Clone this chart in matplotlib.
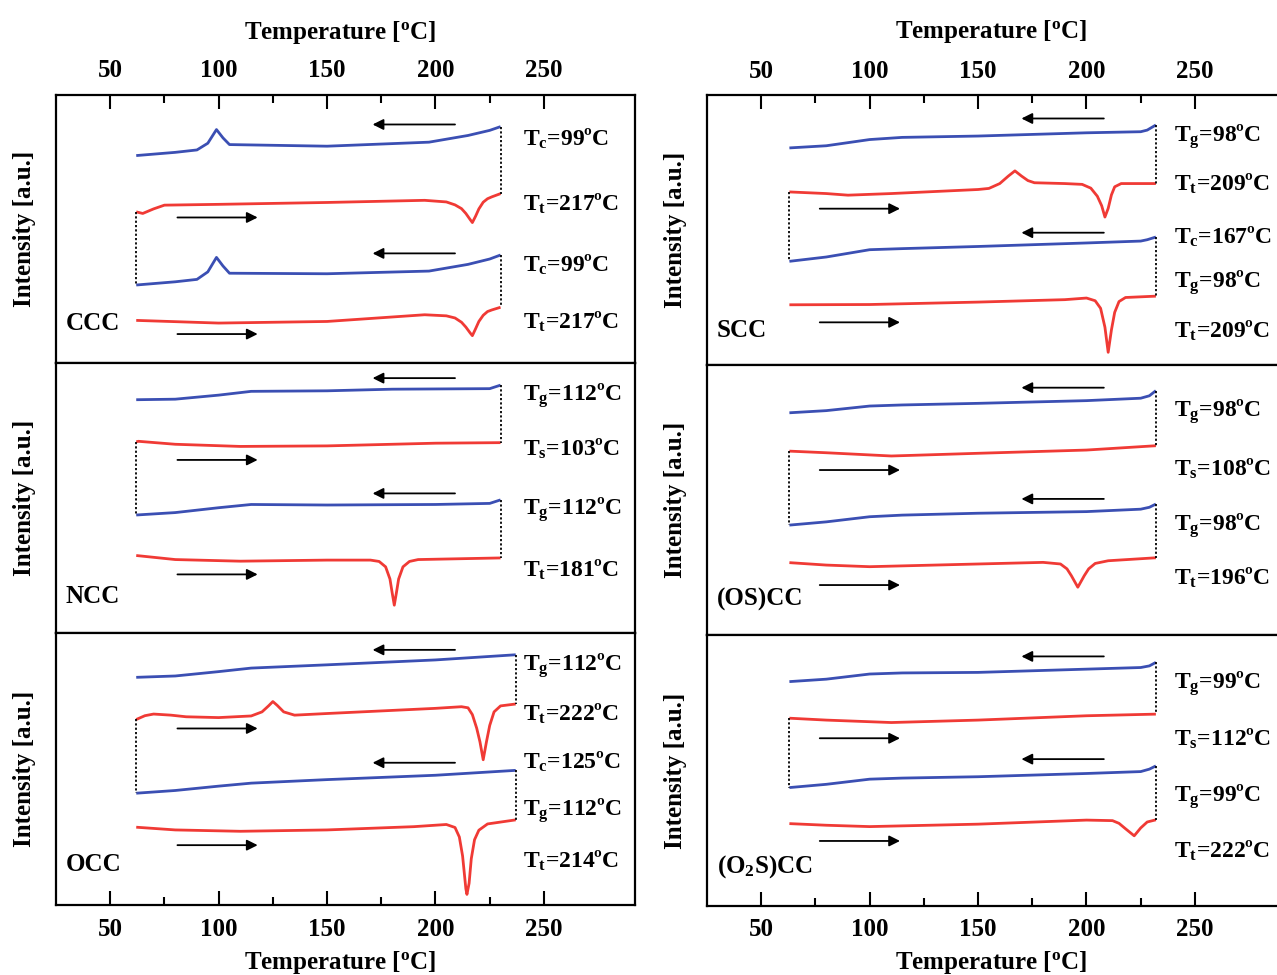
import matplotlib
matplotlib.use("Agg")
import matplotlib.pyplot as plt
from matplotlib.ticker import FixedLocator

plt.rcParams['font.family'] = ['Liberation Serif', 'DejaVu Serif']
plt.rcParams['font.weight'] = 'bold'
plt.rcParams['axes.labelweight'] = 'bold'
plt.rcParams['mathtext.fontset'] = 'custom'
plt.rcParams['mathtext.rm'] = 'Liberation Serif:bold'
plt.rcParams['mathtext.it'] = 'Liberation Serif:bold'
plt.rcParams['mathtext.bf'] = 'Liberation Serif:bold'

BLUE = '#3b4fb3'
RED = '#f03a35'

# ---------------- data (temperature in C, intensity in a.u.) ----------------
# CCC
ccc_c1_x = [62, 80, 90, 95, 99, 102, 105, 150, 197, 215, 225, 230]
ccc_c1_y = [77.4, 78.6, 79.5, 82.0, 87.1, 84.0, 81.5, 80.9, 82.4, 84.9, 86.8, 88.2]
ccc_h1_x = [62, 65, 70, 75, 100, 150, 195, 205, 209, 212, 214, 216, 217, 218.5, 220,
            222, 224, 226, 230]
ccc_h1_y = [56.4, 55.8, 57.5, 58.9, 59.2, 59.9, 60.7, 60.1, 59.0, 57.6, 55.8, 53.5, 52.4,
            54.8, 57.5, 60.0, 61.3, 62.0, 63.2]
ccc_c2_x = [62, 80, 90, 95, 99, 102, 105, 150, 197, 215, 225, 230]
ccc_c2_y = [29.1, 30.3, 31.2, 34.0, 39.4, 36.2, 33.5, 33.3, 34.3, 36.8, 38.8, 40.3]
ccc_h2_x = [62, 100, 150, 195, 205, 209, 212, 214, 216, 217, 218.5, 220, 222, 224, 226, 230]
ccc_h2_y = [15.9, 14.9, 15.5, 18.0, 17.6, 16.8, 15.2, 13.4, 11.2, 10.2, 12.8, 15.5, 17.8,
            19.2, 19.8, 20.8]
ccc_labels = ['T$_c$=99ºC', 'T$_t$=217ºC', 'T$_c$=99ºC', 'T$_t$=217ºC']
ccc_label_y = [83.6, 59.2, 36.6, 15.5]
ccc_arrow_y = [89.0, 54.3, 40.9, 10.8]

# NCC
ncc_c1_x = [62, 80, 100, 115, 150, 180, 225, 230]
ncc_c1_y = [86.4, 86.6, 88.1, 89.5, 89.7, 90.3, 90.5, 91.8]
ncc_h1_x = [62, 63, 80, 110, 150, 200, 230]
ncc_h1_y = [70.8, 71.0, 69.9, 69.1, 69.3, 70.3, 70.5]
ncc_c2_x = [62, 80, 100, 115, 150, 200, 225, 230]
ncc_c2_y = [43.7, 44.6, 46.4, 47.6, 47.4, 47.6, 48.0, 49.3]
ncc_h2_x = [62, 80, 110, 150, 170, 174, 177, 179, 180, 181, 182, 183, 185, 188, 192, 230]
ncc_h2_y = [28.7, 27.2, 26.6, 27.0, 27.0, 26.5, 24.5, 20.0, 15.0, 10.3, 15.0, 20.0, 24.5,
            26.5, 27.2, 27.8]
ncc_labels = ['T$_g$=112ºC', 'T$_s$=103ºC', 'T$_g$=112ºC', 'T$_t$=181ºC']
ncc_label_y = [87.9, 68.1, 45.8, 23.5]
ncc_arrow_y = [94.4, 64.1, 51.7, 21.7]

# OCC
occ_c1_x = [62, 80, 100, 115, 150, 200, 237]
occ_c1_y = [83.7, 84.2, 85.8, 87.1, 88.3, 90.1, 92.0]
occ_h1_x = [62, 66, 70, 78, 85, 100, 115, 120, 123, 125, 127, 130, 135, 150, 200, 212,
            215, 217, 219, 220.5, 222, 223.5, 225, 227, 230, 237]
occ_h1_y = [68.2, 69.6, 70.2, 69.8, 69.2, 68.9, 69.5, 71.0, 73.2, 74.8, 73.4, 71.0, 69.8,
            70.4, 72.3, 72.9, 72.5, 70.0, 65.0, 60.0, 53.4, 60.0, 66.0, 71.0, 73.2, 73.9]
occ_c2_x = [62, 80, 100, 115, 150, 200, 237]
occ_c2_y = [41.1, 42.1, 43.7, 44.8, 46.1, 47.7, 49.5]
occ_h2_x = [62, 80, 110, 150, 190, 205, 209, 211, 212.5, 214, 214.5, 215.5, 216.5, 218,
            220, 224, 237]
occ_h2_y = [28.6, 27.6, 27.1, 27.6, 28.8, 29.6, 28.5, 25.0, 18.0, 6.0, 3.9, 8.0, 17.0,
            24.0, 27.5, 29.8, 31.3]
occ_labels = ['T$_g$=112ºC', 'T$_t$=222ºC', 'T$_c$=125ºC', 'T$_g$=112ºC', 'T$_t$=214ºC']
occ_label_y = [87.9, 70.4, 52.6, 34.7, 16.3]
occ_arrow_y = [93.8, 64.9, 52.3, 22.0]

# SCC
scc_c1_x = [63, 80, 100, 115, 150, 200, 225, 228, 232]
scc_c1_y = [80.4, 81.2, 83.5, 84.3, 84.8, 86.0, 86.4, 87.0, 88.9]
scc_h1_x = [63, 80, 90, 110, 150, 155, 160, 164, 167, 170, 173, 176, 190, 198, 202, 205,
            207, 208.5, 210, 211.5, 213, 216, 232]
scc_h1_y = [64.1, 63.5, 62.9, 63.5, 65.0, 65.4, 67.2, 70.0, 71.9, 70.0, 68.3, 67.5, 67.2,
            66.9, 65.5, 62.5, 59.0, 54.8, 58.0, 63.0, 66.0, 67.2, 67.2]
scc_c2_x = [63, 80, 100, 115, 150, 200, 225, 228, 232]
scc_c2_y = [38.4, 40.0, 42.7, 43.1, 43.9, 45.2, 45.9, 46.4, 47.4]
scc_h2_x = [63, 100, 150, 190, 200, 204, 206.5, 208.5, 210, 211.5, 213, 215, 218, 232]
scc_h2_y = [22.3, 22.4, 23.3, 24.2, 24.8, 23.8, 21.0, 14.0, 4.7, 13.0, 19.5, 23.5, 25.0,
            25.5]
scc_labels = ['T$_g$=98ºC', 'T$_t$=209ºC', 'T$_c$=167ºC', 'T$_g$=98ºC', 'T$_t$=209ºC']
scc_label_y = [84.5, 67.2, 47.4, 30.7, 12.7]
scc_arrow_y = [91.3, 57.9, 49.0, 15.8]

# (OS)CC
oscc_c1_x = [63, 80, 100, 115, 150, 200, 225, 229, 232]
oscc_c1_y = [82.3, 83.1, 84.8, 85.2, 85.8, 86.8, 87.7, 88.6, 90.5]
oscc_h1_x = [63, 80, 110, 150, 200, 232]
oscc_h1_y = [68.1, 67.5, 66.3, 67.3, 68.5, 70.1]
oscc_c2_x = [63, 80, 100, 115, 150, 200, 225, 229, 232]
oscc_c2_y = [40.7, 41.9, 43.8, 44.4, 45.1, 45.7, 46.6, 47.3, 48.5]
oscc_h2_x = [63, 80, 100, 150, 180, 188, 191, 193, 196, 199, 201, 204, 210, 232]
oscc_h2_y = [26.8, 25.9, 25.3, 26.3, 26.9, 26.3, 24.5, 22.0, 17.7, 22.0, 24.5, 26.5, 27.5, 28.6]
oscc_labels = ['T$_g$=98ºC', 'T$_s$=108ºC', 'T$_g$=98ºC', 'T$_t$=196ºC']
oscc_label_y = [82.7, 61.7, 40.7, 21.0]
oscc_arrow_y = [91.6, 61.1, 50.4, 18.5]

# (O2S)CC
o2scc_c1_x = [63, 80, 100, 115, 150, 200, 225, 229, 232]
o2scc_c1_y = [82.8, 83.7, 85.6, 86.0, 86.2, 87.4, 88.0, 88.6, 89.9]
o2scc_h1_x = [63, 80, 110, 150, 200, 232]
o2scc_h1_y = [69.3, 68.6, 67.7, 68.6, 70.2, 70.8]
o2scc_c2_x = [63, 80, 100, 115, 150, 200, 225, 229, 232]
o2scc_c2_y = [43.7, 44.9, 46.8, 47.2, 47.7, 48.9, 49.6, 50.5, 51.7]
o2scc_h2_x = [63, 80, 100, 150, 200, 212, 215, 218, 222, 225, 228, 232]
o2scc_h2_y = [30.4, 29.8, 29.3, 30.2, 31.7, 31.5, 30.5, 28.5, 25.9, 28.8, 31.0, 31.8]
o2scc_labels = ['T$_g$=99ºC', 'T$_s$=112ºC', 'T$_g$=99ºC', 'T$_t$=222ºC']
o2scc_label_y = [81.9, 61.6, 40.3, 20.3]
o2scc_arrow_y = [92.1, 61.9, 54.2, 24.0]

major_ticks = [50, 100, 150, 200, 250]
minor_ticks = [75, 125, 175, 225]

# ---------------- figure ----------------
W, H = 1277, 975
fig = plt.figure(figsize=(W / 100, H / 100), dpi=100)


def px_axes(x0, y_top, y_bot, width=579):
    return fig.add_axes([x0 / W, 1 - y_bot / H, width / W, (y_bot - y_top) / H])


def draw_panel(ax, curves, labels, label_y, arrow_y, name, name_y, cool_arrow, heat_arrow):
    ax.set_xlim(25, 292)
    ax.set_ylim(0, 100)
    for x, y, c in curves:
        ax.plot(x, y, color=c, lw=2.0, solid_capstyle='butt', solid_joinstyle='round')
    # dotted connectors between consecutive scans
    for a, b, side in [(0, 1, -1), (1, 2, 0), (2, 3, -1)]:
        xa = curves[a][0][side]
        ax.plot([xa, xa], [curves[a][1][side], curves[b][1][side]], color='k',
                ls=(0, (1.2, 1.2)), lw=1.3)
    for i, ay in enumerate(arrow_y):
        xs = cool_arrow if i % 2 == 0 else heat_arrow
        ax.annotate('', xy=(xs[1], ay), xytext=(xs[0], ay),
                    arrowprops=dict(arrowstyle='-|>', color='k', lw=1.3,
                                    mutation_scale=16, shrinkA=0, shrinkB=0))
    for t, ly in zip(labels, label_y):
        ax.text(240.5, ly, t, fontsize=17, va='center', ha='left')
    ax.text(29.5, name_y, name, fontsize=18, va='center', ha='left')
    ax.set_yticks([])
    ax.xaxis.set_major_locator(FixedLocator(major_ticks))
    ax.xaxis.set_minor_locator(FixedLocator(minor_ticks))
    ax.tick_params(axis='x', which='both', direction='in', bottom=False, top=False,
                   labelbottom=False, labeltop=False, width=1.5, labelsize=18, pad=9)
    ax.tick_params(axis='x', which='major', length=10)
    ax.tick_params(axis='x', which='minor', length=6)
    for s in ax.spines.values():
        s.set_linewidth(1.6)
    ax.set_ylabel('Intensity [a.u.]', fontsize=18, fontweight='bold')
    ax.yaxis.set_label_coords(-0.034, 0.5)


columns = [
    (56, [(95, 363), (363, 633), (633, 905)], (209, 171), (81, 118), [
        ([(ccc_c1_x, ccc_c1_y, BLUE), (ccc_h1_x, ccc_h1_y, RED),
          (ccc_c2_x, ccc_c2_y, BLUE), (ccc_h2_x, ccc_h2_y, RED)],
         ccc_labels, ccc_label_y, ccc_arrow_y, 'CCC', 14.9),
        ([(ncc_c1_x, ncc_c1_y, BLUE), (ncc_h1_x, ncc_h1_y, RED),
          (ncc_c2_x, ncc_c2_y, BLUE), (ncc_h2_x, ncc_h2_y, RED)],
         ncc_labels, ncc_label_y, ncc_arrow_y, 'NCC', 13.6),
        ([(occ_c1_x, occ_c1_y, BLUE), (occ_h1_x, occ_h1_y, RED),
          (occ_c2_x, occ_c2_y, BLUE), (occ_h2_x, occ_h2_y, RED)],
         occ_labels, occ_label_y, occ_arrow_y, 'OCC', 15.0),
    ]),
    (707, [(95, 365), (365, 635), (635, 906)], (208, 170), (77, 114), [
        ([(scc_c1_x, scc_c1_y, BLUE), (scc_h1_x, scc_h1_y, RED),
          (scc_c2_x, scc_c2_y, BLUE), (scc_h2_x, scc_h2_y, RED)],
         scc_labels, scc_label_y, scc_arrow_y, 'SCC', 12.7),
        ([(oscc_c1_x, oscc_c1_y, BLUE), (oscc_h1_x, oscc_h1_y, RED),
          (oscc_c2_x, oscc_c2_y, BLUE), (oscc_h2_x, oscc_h2_y, RED)],
         oscc_labels, oscc_label_y, oscc_arrow_y, '(OS)CC', 13.0),
        ([(o2scc_c1_x, o2scc_c1_y, BLUE), (o2scc_h1_x, o2scc_h1_y, RED),
          (o2scc_c2_x, o2scc_c2_y, BLUE), (o2scc_h2_x, o2scc_h2_y, RED)],
         o2scc_labels, o2scc_label_y, o2scc_arrow_y, '(O$_2$S)CC', 14.4),
    ]),
]

for x0, rows, cool_arrow, heat_arrow, panels in columns:
    axes = []
    for (yt, yb), p in zip(rows, panels):
        ax = px_axes(x0, yt, yb)
        draw_panel(ax, *p[:5], p[5], cool_arrow, heat_arrow)
        axes.append(ax)
    top, bot = axes[0], axes[-1]
    top.tick_params(axis='x', which='both', top=True, labeltop=True)
    top.xaxis.set_label_position('top')
    top.set_xlabel('Temperature [$^\\mathrm{o}$C]', fontsize=18, fontweight='bold')
    top.xaxis.set_label_coords(0.49, 1.21)
    bot.tick_params(axis='x', which='both', bottom=True, labelbottom=True)
    bot.set_xlabel('Temperature [$^\\mathrm{o}$C]', fontsize=18, fontweight='bold')
    bot.xaxis.set_label_coords(0.49, -0.16)

fig.savefig('out.png', dpi=100)
